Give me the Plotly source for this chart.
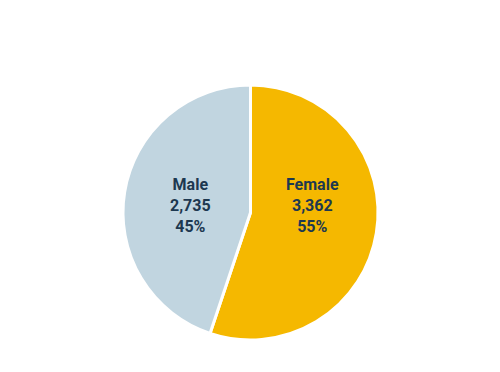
import plotly.graph_objects as go

labels = ["Female", "Male"]
values = [3362, 2735]
colors = ["#f5b800", "#c1d5e0"]
label_x = [312 / 500, 190 / 500]  # label anchor positions (paper)
label_y = 1 - 206 / 372

total = sum(values)

fig = go.Figure(go.Pie(
    labels=labels,
    values=values,
    sort=False,
    direction="clockwise",
    rotation=0,
    marker=dict(colors=colors, line=dict(color="white", width=3)),
    textinfo="none",
    showlegend=False,
    hoverinfo="label+value+percent",
    domain=dict(x=[123/500, 378/500], y=[1-340/372, 1-85/372]),
))

for lab, val, lx in zip(labels, values, label_x):
    pct = round(100 * val / total)
    fig.add_annotation(
        x=lx, y=label_y, xref="paper", yref="paper",
        text=f"<b>{lab}</b><br><b>{val:,}</b><br><b>{pct}%</b>",
        showarrow=False, align="center",
        font=dict(family="Roboto", size=16, color="#1d3850"),
    )

fig.update_layout(
    width=500, height=372,
    margin=dict(l=0, r=0, t=0, b=0),
    paper_bgcolor="white", plot_bgcolor="white",
)
fig.write_html("out.html")
